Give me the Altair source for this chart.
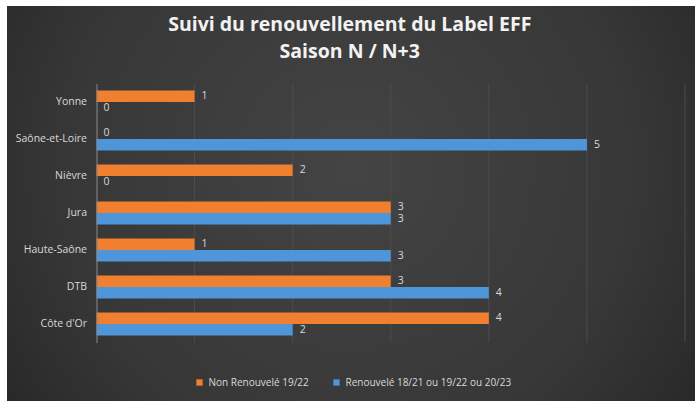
import altair as alt
import pandas as pd

# ---- data ----
categories = ["Yonne", "Saône-et-Loire", "Nièvre", "Jura", "Haute-Saône", "DTB", "Côte d'Or"]
non_renouvele = [1, 0, 2, 3, 1, 3, 4]
renouvele = [0, 5, 0, 3, 3, 4, 2]
series_names = ["Non Renouvelé 19/22", "Renouvelé 18/21 ou 19/22 ou 20/23"]
series_colors = ["#F07F2F", "#4E95D9"]
x_ticks = [0, 1, 2, 3, 4, 5, 6]
title_lines = ["Suivi du renouvellement du Label EFF", "Saison N / N+3"]

rows = []
for c, a, b in zip(categories, non_renouvele, renouvele):
    rows.append({"cat": c, "serie": series_names[0], "val": a})
    rows.append({"cat": c, "serie": series_names[1], "val": b})
df = pd.DataFrame(rows)

# ---- layout ----
W, H = 588.5, 259
PL, PT, PR, PB = 96.5, 83.5, 10, 58.5
FONT = "Open Sans"
TXT = "#d9d9d9"

xscale = alt.Scale(domain=[0, 6], nice=False, zero=True)

grad = alt.Gradient(
    gradient="radial",
    stops=[
        alt.GradientStop(color="#444444", offset=0),
        alt.GradientStop(color="#373737", offset=0.55),
        alt.GradientStop(color="#1e1e1e", offset=1),
    ],
    x1=0.5, y1=0.45, r1=0, x2=0.5, y2=0.45, r2=0.75,
)

bg = alt.Chart(pd.DataFrame({"k": [0]})).mark_rect(fill=grad).encode(
    x=alt.value(7 - PL), x2=alt.value(695 - PL),
    y=alt.value(6 - PT), y2=alt.value(401 - PT),
)

grid = alt.Chart(pd.DataFrame({"t": x_ticks[1:]})).mark_rule(
    color="#4c4c4c", strokeWidth=1
).encode(
    x=alt.X("t:Q", scale=xscale, axis=None),
    y=alt.value(0), y2=alt.value(H),
)

base = alt.Chart(df).encode(
    y=alt.Y(
        "cat:N", sort=categories,
        scale=alt.Scale(paddingInner=0.378, paddingOuter=0.189),
        axis=alt.Axis(title=None, labelColor=TXT, labelFont=FONT, labelFontSize=10.5,
                      labelPadding=10, ticks=False, domain=True, domainColor="#8a8a8a",
                      grid=False, zindex=1),
    ),
    yOffset=alt.YOffset("serie:N", sort=series_names),
    x=alt.X("val:Q", scale=xscale,
            axis=alt.Axis(title=None, values=x_ticks, format="d", labelColor=TXT,
                          labelFont=FONT, labelFontSize=10.5, labelPadding=6,
                          ticks=False, domain=False, grid=False, zindex=1)),
)

bars = base.mark_bar().encode(
    color=alt.Color(
        "serie:N", sort=series_names,
        scale=alt.Scale(domain=series_names, range=series_colors),
        legend=alt.Legend(title=None, orient="none", direction="horizontal",
                          legendX=98, legendY=294, symbolType="square",
                          symbolSize=40, symbolStrokeWidth=0, labelColor=TXT,
                          labelFont=FONT, labelFontSize=10, columnPadding=22,
                          labelOffset=4, labelLimit=0),
    )
)

labels = base.mark_text(align="left", baseline="middle", dx=7, color=TXT,
                        font=FONT, fontSize=10.5).encode(text=alt.Text("val:Q"))

chart = alt.layer(bg, grid, bars, labels).properties(
    width=W, height=H,
    padding={"left": PL, "top": PT, "right": PR, "bottom": PB},
    autosize=alt.AutoSizeParams(type="none"),
    background="white",
    title=alt.TitleParams(text=title_lines, color="#f2f2f2", font=FONT, fontSize=19.5,
                          fontWeight="bold", anchor="middle",
                          dx=-41, dy=89, lineHeight=27, baseline="alphabetic",
                          offset=18),
).configure_view(stroke=None)

chart.save("out.html", embed_options={"renderer": "svg", "actions": False})
